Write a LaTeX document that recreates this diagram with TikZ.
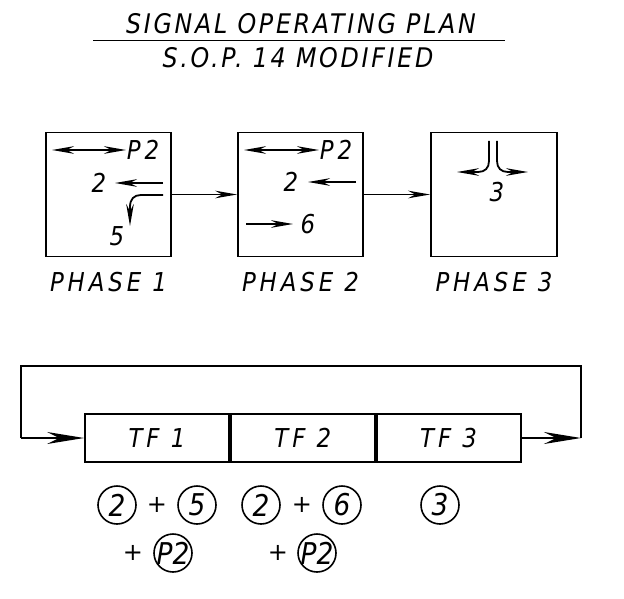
\documentclass[tikz,border=0pt]{standalone}
\usepackage{fontspec}
\setmainfont{DejaVu Sans}
\newfontfamily\cadfont[FakeStretch=0.88, LetterSpace=15]{DejaVu Sans}
\newfontfamily\cadtitle[FakeStretch=0.88, LetterSpace=10]{DejaVu Sans}
\newfontfamily\cadnum[FakeStretch=0.88]{DejaVu Sans}
\usetikzlibrary{arrows.meta,positioning}
\tikzset{
  phasebox/.style={draw, line width=0.9pt, minimum width=62.5pt, minimum height=62pt, inner sep=0pt},
  tfbox/.style={draw, line width=0.9pt, minimum width=72pt, minimum height=24pt, inner sep=0pt,
    font=\cadfont\itshape\fontsize{13}{15}\selectfont},
  lbl/.style={inner sep=0pt, font=\cadfont\itshape\fontsize{13}{15}\selectfont},
  ttl/.style={inner sep=0pt, font=\cadtitle\itshape\fontsize{13.5}{15}\selectfont},
  circnum/.style={draw, circle, line width=0.8pt, minimum size=19pt, inner sep=0pt,
    font=\cadnum\itshape\fontsize{15}{16}\selectfont},
  plus/.style={inner sep=0pt, font=\fontsize{12}{14}\selectfont},
  sarr/.style={-{Stealth[length=11pt, width=3.8pt]}},
  darr/.style={{Stealth[length=11pt, width=3.8pt]}-{Stealth[length=11pt, width=3.8pt]}},
  barr/.style={-{Stealth[length=18.5pt, width=6pt]}}
}
\begin{document}
\begin{tikzpicture}[x=0.5pt, y=-0.5pt, line width=0.9pt]
  \useasboundingbox (0,0) rectangle (624,598);
  % title
  \node[ttl, anchor=base] (title) at (301,34) {SIGNAL OPERATING PLAN};
  \node[ttl, anchor=base] (subtitle) at (298,68) {S.O.P. 14 MODIFIED};
  \coordinate (ulL) at (93,40.5);
  \coordinate (ulR) at (505,40.5);
  \draw (ulL) -- (ulR);

  % phase boxes
  \node[phasebox] (ph1) at (108.5,194.5) {};
  \node[phasebox] (ph2) at (300.5,194.5) {};
  \node[phasebox, minimum width=63pt] (ph3) at (494,194.5) {};
  \node[lbl, below=7pt of ph1] (lbl1) {PHASE 1};
  \node[lbl, below=7pt of ph2] (lbl2) {PHASE 2};
  \node[lbl, below=7pt of ph3] (lbl3) {PHASE 3};
  \draw[sarr] (ph1.east) -- (ph2.west);
  \draw[sarr] (ph2.east) -- (ph3.west);

  % phase 1 movements
  \node[lbl, anchor=west] (p2a) at (126,150) {P2};
  \coordinate (p2aL) at (52,150);
  \draw[darr] (p2aL) -- (p2a.west);
  \node[lbl] (m2a) at (99,183) {2};
  \coordinate (m2aR) at (163,183);
  \coordinate (m2aL) at (115,183);
  \draw[sarr] (m2aR) -- (m2aL);
  \node[lbl] (m5) at (117,236) {5};
  \coordinate (m5s) at (163,195);
  \coordinate (m5e) at (130,226);
  \draw[sarr] (m5s) -- (141,195) .. controls (134,195) and (130,199) .. (130,207) -- (m5e);

  % phase 2 movements
  \node[lbl, anchor=west] (p2b) at (319,150) {P2};
  \coordinate (p2bL) at (244,150);
  \draw[darr] (p2bL) -- (p2b.west);
  \node[lbl] (m2b) at (291,182) {2};
  \coordinate (m2bR) at (356,182);
  \coordinate (m2bL) at (308,182);
  \draw[sarr] (m2bR) -- (m2bL);
  \node[lbl] (m6) at (308,224) {6};
  \coordinate (m6s) at (246,224);
  \coordinate (m6e) at (293,224);
  \draw[sarr] (m6s) -- (m6e);

  % phase 3 movement
  \node[lbl] (m3) at (497,192) {3};
  \coordinate (m3L) at (489,141);
  \coordinate (m3R) at (497,141);
  \draw[sarr] (m3L) -- (489,161) .. controls (489,168) and (485,172) .. (478,172) -- (457,172);
  \draw[sarr] (m3R) -- (497,161) .. controls (497,168) and (501,172) .. (508,172) -- (528,172);

  % timing frames
  \node[tfbox] (tf1) at (157,438) {TF 1};
  \node[tfbox, right=0pt of tf1] (tf2) {TF 2};
  \node[tfbox, right=0pt of tf2] (tf3) {TF 3};
  \coordinate (loopR) at (581,438);
  \coordinate (loopTR) at (581,366);
  \coordinate (loopTL) at (20.7,366);
  \coordinate (loopL) at (20.7,438);
  \draw[barr] (tf3.east) -- (loopR);
  \draw (loopR) -- (loopTR) -- (loopTL) -- (loopL);
  \draw[barr] (loopL) -- (tf1.west);

  % movements per frame
  \node[circnum] (c2a) at (117,505) {2};
  \node[plus] (pl1) at (157,505) {+};
  \node[circnum] (c5) at (197,505) {5};
  \node[circnum] (c2b) at (261,505) {2};
  \node[plus] (pl2) at (302,505) {+};
  \node[circnum] (c6) at (342,505) {6};
  \node[circnum] (c3) at (440,505) {3};
  \node[plus] (pl3) at (133,553) {+};
  \node[circnum] (cp2a) at (173,553) {\makebox[0pt]{P2}};
  \node[plus] (pl4) at (278,553) {+};
  \node[circnum] (cp2b) at (317,553) {\makebox[0pt]{P2}};
\end{tikzpicture}
\end{document}
